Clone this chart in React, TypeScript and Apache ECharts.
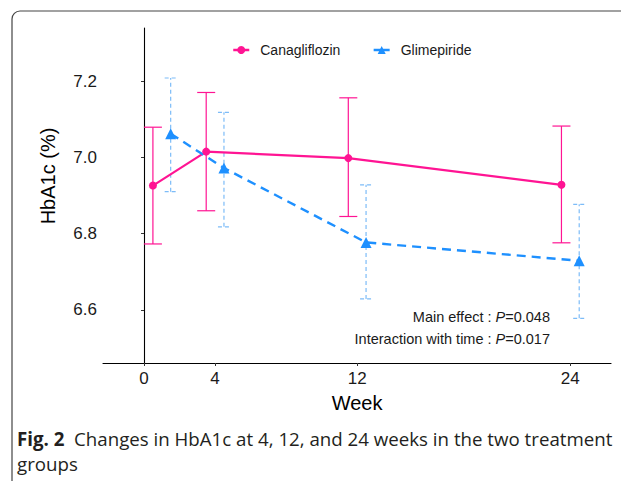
import React, { useEffect, useRef } from "react";
import * as echarts from "echarts";

const weekTicks = [0, 4, 12, 24];
const yTicks = [6.6, 6.8, 7.0, 7.2];
// plotted (dodged) week positions
const canagWeekPos = [0.5, 3.5, 11.5, 23.5];
const glimWeekPos = [1.5, 4.5, 12.5, 24.5];
const canagMean = [6.926, 7.015, 6.998, 6.928];
const canagLow = [6.773, 6.86, 6.845, 6.776];
const canagHigh = [7.079, 7.17, 7.156, 7.082];
const glimMean = [7.062, 6.972, 6.777, 6.729];
const glimLow = [6.91, 6.818, 6.629, 6.578];
const glimHigh = [7.208, 7.118, 6.928, 6.877];

const PINK = "#ff1493";
const BLUE = "#1e90ff";
const LIGHTBLUE = "#7dbcf8";

function errRender(color: string, capW: number, dash: number[] | null, lw: number) {
  return (params: any, api: any) => {
    const x = api.value(0);
    const lo = api.coord([x, api.value(1)]);
    const hi = api.coord([x, api.value(2)]);
    const style: any = { stroke: color, lineWidth: lw };
    if (dash) style.lineDash = dash;
    return {
      type: "group",
      children: [
        { type: "line", shape: { x1: lo[0], y1: lo[1], x2: hi[0], y2: hi[1] }, style },
        { type: "line", shape: { x1: hi[0] - capW / 2, y1: hi[1], x2: hi[0] + capW / 2, y2: hi[1] }, style },
        { type: "line", shape: { x1: lo[0] - capW / 2, y1: lo[1], x2: lo[0] + capW / 2, y2: lo[1] }, style },
      ],
    };
  };
}

export default function App() {
  const ref = useRef<HTMLDivElement>(null);
  useEffect(() => {
    if (!ref.current) return;
    const chart = echarts.init(ref.current, undefined, { renderer: "svg" });
    const font = "Liberation Sans, Arial, sans-serif";
    const richI = { fontStyle: "italic", fontFamily: font, fontSize: 14.5, fill: "#1a1a1a" };
    const option: any = {
      animation: false,
      backgroundColor: "#ffffff",
      grid: { left: 103, right: 10, top: 28, bottom: 118 },
      legend: {
        left: 227,
        top: 38,
        itemWidth: 16,
        itemHeight: 10,
        itemGap: 32,
        lineStyle: { type: "solid", width: 2.5 },
        textStyle: { fontFamily: font, fontSize: 14, color: "#1a1a1a", padding: [0, 0, 0, 6] },
        data: ["Canagliflozin", "Glimepiride"],
      },
      xAxis: {
        type: "value",
        min: -2.31,
        max: 26.29,
        splitLine: { show: false },
        axisLine: { lineStyle: { color: "#000", width: 1.1 } },
        axisTick: { customValues: weekTicks, length: 3, lineStyle: { color: "#333" } },
        axisLabel: {
          customValues: weekTicks,
          margin: 7,
          fontFamily: font,
          fontSize: 17,
          color: "#1a1a1a",
        },
        name: "Week",
        nameLocation: "middle",
        nameGap: 30,
        nameTextStyle: { fontFamily: font, fontSize: 20, color: "#000" },
      },
      yAxis: {
        type: "value",
        min: 6.461,
        max: 7.339,
        splitLine: { show: false },
        axisLine: { show: true, lineStyle: { color: "#000", width: 1.1 } },
        axisTick: { show: true, customValues: yTicks, length: 3, lineStyle: { color: "#333" } },
        axisLabel: {
          customValues: yTicks,
          margin: 6,
          fontFamily: font,
          fontSize: 17,
          color: "#1a1a1a",
          formatter: (v: number) => v.toFixed(1),
        },
      },
      series: [
        {
          name: "Canagliflozin",
          type: "line",
          data: canagWeekPos.map((x, i) => [x, canagMean[i]]),
          symbol: "circle",
          symbolSize: 8,
          itemStyle: { color: PINK },
          lineStyle: { color: PINK, width: 2.2 },
          z: 3,
        },
        {
          name: "Glimepiride",
          type: "line",
          data: glimWeekPos.map((x, i) => [x, glimMean[i]]),
          symbol: "triangle",
          symbolSize: 11,
          itemStyle: { color: BLUE },
          lineStyle: { color: BLUE, width: 2.4, type: [9, 6] },
          z: 3,
        },
        {
          name: "Canagliflozin",
          type: "custom",
          renderItem: errRender(PINK, 18, null, 1.2),
          data: canagWeekPos.map((x, i) => [x, canagLow[i], canagHigh[i]]),
          encode: { x: 0, y: [1, 2] },
          itemStyle: { color: PINK },
          z: 2,
          silent: true,
        },
        {
          name: "Glimepiride",
          type: "custom",
          renderItem: errRender(LIGHTBLUE, 12, [4, 3], 1.2),
          data: glimWeekPos.map((x, i) => [x, glimLow[i], glimHigh[i]]),
          encode: { x: 0, y: [1, 2] },
          itemStyle: { color: BLUE },
          z: 2,
          silent: true,
        },
      ],
      graphic: [
        {
          type: "rect",
          shape: { x: 12, y: 11, width: 700, height: 600, r: [8, 0, 0, 0] },
          style: { fill: "none", stroke: "#444", lineWidth: 1.2 },
          silent: true,
        },
        {
          type: "text",
          x: 48,
          y: 176,
          rotation: Math.PI / 2,
          style: {
            text: "HbA1c (%)",
            fontFamily: font,
            fontSize: 20,
            fill: "#000",
            align: "center",
            verticalAlign: "middle",
          },
        },
        {
          type: "text",
          x: 550,
          y: 317,
          style: {
            text: "Main effect : {i|P}=0.048",
            fontFamily: font,
            fontSize: 14.5,
            fill: "#1a1a1a",
            align: "right",
            verticalAlign: "middle",
            rich: { i: richI },
          },
        },
        {
          type: "text",
          x: 550,
          y: 339,
          style: {
            text: "Interaction with time : {i|P}=0.017",
            fontFamily: font,
            fontSize: 14.5,
            fill: "#1a1a1a",
            align: "right",
            verticalAlign: "middle",
            rich: { i: richI },
          },
        },
        {
          type: "text",
          x: 17,
          y: 438,
          style: {
            text: "{b|Fig. 2}  Changes in HbA1c at 4, 12, and 24 weeks in the two treatment",
            fontFamily: "Open Sans",
            fontSize: 18.7,
            fill: "#231f20",
            verticalAlign: "middle",
            rich: { b: { fontWeight: "bold", fontFamily: "Open Sans", fontSize: 18.7, fill: "#231f20" } },
          },
        },
        {
          type: "text",
          x: 17,
          y: 463,
          style: {
            text: "groups",
            fontFamily: "Open Sans",
            fontSize: 18.7,
            fill: "#231f20",
            verticalAlign: "middle",
          },
        },
      ],
    };
    chart.setOption(option);
    return () => chart.dispose();
  }, []);
  return (
    <div
      ref={ref}
      style={{ position: "fixed", left: 0, top: 0, width: 621, height: 481 }}
    />
  );
}
